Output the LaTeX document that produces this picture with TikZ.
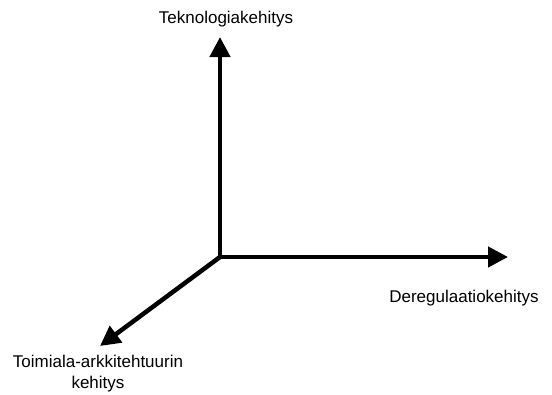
\documentclass[tikz,border=0pt]{standalone}
\usepackage{fontspec}
\setmainfont{Liberation Sans}
\usetikzlibrary{arrows.meta,positioning}

\begin{document}
\begin{tikzpicture}[
    x=1pt, y=-1pt,
    axis/.style={
        line width=4.5pt, -{Triangle[length=20pt,width=20pt]}
    },
    axislabel/.style={
        align=center, font=\fontsize{17}{21}\selectfont, inner sep=0pt
    }
]
    \useasboundingbox (0,0) rectangle (552,394);

    \coordinate (origin) at (220,257);
    \coordinate (tech) at (220,37);
    \coordinate (dereg) at (508,257);
    \coordinate (arch) at (100,346);

    % Labels
    \node[axislabel] (techlabel) at (226,19) {Teknologiakehitys};
    \node[axislabel] (dereglabel) at (464,298) {Deregulaatiokehitys};
    \node[axislabel] (archlabel) at (98,374) {Toimiala-arkkitehtuurin\\kehitys};

    % Axes
    \foreach \tip in {tech,dereg,arch} {
        \draw[axis] (origin) -- (\tip);
    }
\end{tikzpicture}
\end{document}
